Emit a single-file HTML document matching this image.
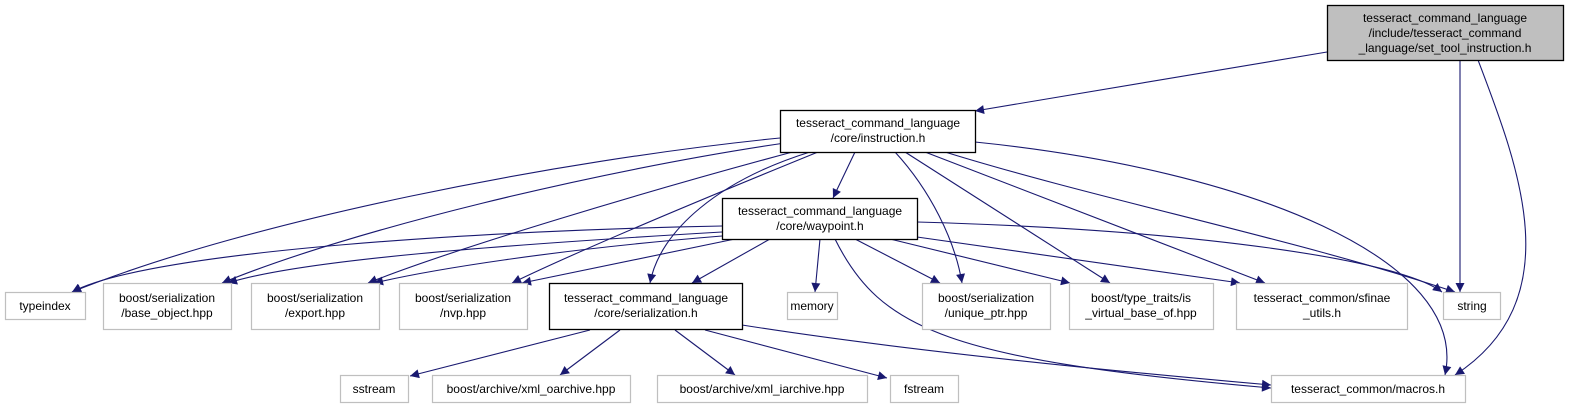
<!DOCTYPE html>
<html><head><meta charset="utf-8"><style>
html,body{margin:0;padding:0;background:#fff;}
svg{display:block;}
text{font-family:"Liberation Sans",sans-serif;font-size:12px;fill:#000;}
.g{fill:#fff;stroke:#bfbfbf;stroke-width:1.2}
.b{fill:#fff;stroke:#000;stroke-width:1.3}
path.e{fill:none;stroke:#191970;stroke-width:1.1;marker-end:url(#a)}
</style></head><body>
<svg width="1573" height="409" viewBox="0 0 1573 409" xmlns="http://www.w3.org/2000/svg">
<defs><marker id="a" viewBox="0 0 10 10" refX="10" refY="5" markerWidth="10" markerHeight="9" markerUnits="userSpaceOnUse" orient="auto"><path d="M0,0 L10,5 L0,10 z" fill="#191970"/></marker></defs>

<path class="e" d="M1327,52 L975,111"/>
<path class="e" d="M1460,60 L1460,292"/>
<path class="e" d="M1478,60 C1520,170 1570,300 1455,375"/>
<path class="e" d="M780,138 C560,160 250,220 72,292"/>
<path class="e" d="M785,143 C600,170 350,230 222,283"/>
<path class="e" d="M800,150 C650,190 450,250 368,283"/>
<path class="e" d="M818,152 C700,200 580,250 512,283"/>
<path class="e" d="M855,152 L833,198"/>
<path class="e" d="M810,152 C720,180 660,230 650,283"/>
<path class="e" d="M895,152 C930,190 955,240 962,283"/>
<path class="e" d="M905,152 L1110,283"/>
<path class="e" d="M925,152 L1265,283"/>
<path class="e" d="M945,152 C1100,200 1300,240 1455,292"/>
<path class="e" d="M975,142 C1250,170 1470,260 1445,375"/>
<path class="e" d="M722,226 C500,230 150,250 72,292"/>
<path class="e" d="M722,232 C500,245 300,260 228,283"/>
<path class="e" d="M722,236 C550,250 430,270 374,283"/>
<path class="e" d="M735,239 L522,283"/>
<path class="e" d="M770,239 L692,283"/>
<path class="e" d="M820,239 L815,292"/>
<path class="e" d="M855,239 L940,283"/>
<path class="e" d="M890,239 L1070,283"/>
<path class="e" d="M917,237 L1240,283"/>
<path class="e" d="M917,222 C1200,230 1400,260 1442,292"/>
<path class="e" d="M835,239 C880,330 950,360 1271,388"/>
<path class="e" d="M590,330 L410,376"/>
<path class="e" d="M620,330 L560,375"/>
<path class="e" d="M675,330 L735,375"/>
<path class="e" d="M705,330 L887,378"/>
<path class="e" d="M742,325 C900,350 1100,370 1271,385"/>

<rect x="1327.5" y="5.5" width="236" height="55" fill="#bfbfbf" stroke="#000" stroke-width="1.3"/>
<text x="1445" y="22" text-anchor="middle">tesseract_command_language</text>
<text x="1445" y="37" text-anchor="middle">/include/tesseract_command</text>
<text x="1445" y="52" text-anchor="middle">_language/set_tool_instruction.h</text>

<rect class="b" x="780.5" y="110.5" width="195" height="42"/>
<text x="878" y="127" text-anchor="middle">tesseract_command_language</text>
<text x="878" y="142" text-anchor="middle">/core/instruction.h</text>

<rect class="b" x="722.5" y="198.5" width="195" height="41"/>
<text x="820" y="215" text-anchor="middle">tesseract_command_language</text>
<text x="820" y="230" text-anchor="middle">/core/waypoint.h</text>

<rect class="g" x="5.5" y="292.5" width="80" height="27"/><text x="45" y="310" text-anchor="middle">typeindex</text>
<rect class="g" x="103.5" y="283.5" width="128" height="46"/><text x="167" y="302" text-anchor="middle">boost/serialization</text><text x="167" y="317" text-anchor="middle">/base_object.hpp</text>
<rect class="g" x="251.5" y="283.5" width="128" height="46"/><text x="315" y="302" text-anchor="middle">boost/serialization</text><text x="315" y="317" text-anchor="middle">/export.hpp</text>
<rect class="g" x="399.5" y="283.5" width="128" height="46"/><text x="463" y="302" text-anchor="middle">boost/serialization</text><text x="463" y="317" text-anchor="middle">/nvp.hpp</text>
<rect class="b" x="549.5" y="283.5" width="193" height="46"/><text x="646" y="302" text-anchor="middle">tesseract_command_language</text><text x="646" y="317" text-anchor="middle">/core/serialization.h</text>
<rect class="g" x="787.5" y="292.5" width="50" height="27"/><text x="812" y="310" text-anchor="middle">memory</text>
<rect class="g" x="922.5" y="283.5" width="128" height="46"/><text x="986" y="302" text-anchor="middle">boost/serialization</text><text x="986" y="317" text-anchor="middle">/unique_ptr.hpp</text>
<rect class="g" x="1069.5" y="283.5" width="144" height="46"/><text x="1141" y="302" text-anchor="middle">boost/type_traits/is</text><text x="1141" y="317" text-anchor="middle">_virtual_base_of.hpp</text>
<rect class="g" x="1236.5" y="283.5" width="171" height="46"/><text x="1322" y="302" text-anchor="middle">tesseract_common/sfinae</text><text x="1322" y="317" text-anchor="middle">_utils.h</text>
<rect class="g" x="1443.5" y="292.5" width="57" height="27"/><text x="1472" y="310" text-anchor="middle">string</text>
<rect class="g" x="340.5" y="375.5" width="68" height="27"/><text x="374" y="393" text-anchor="middle">sstream</text>
<rect class="g" x="432.5" y="375.5" width="198" height="27"/><text x="531" y="393" text-anchor="middle">boost/archive/xml_oarchive.hpp</text>
<rect class="g" x="657.5" y="375.5" width="210" height="27"/><text x="762" y="393" text-anchor="middle">boost/archive/xml_iarchive.hpp</text>
<rect class="g" x="890.5" y="375.5" width="68" height="27"/><text x="924" y="393" text-anchor="middle">fstream</text>
<rect class="g" x="1271.5" y="375.5" width="194" height="27"/><text x="1368" y="393" text-anchor="middle">tesseract_common/macros.h</text>
</svg>
</body></html>
